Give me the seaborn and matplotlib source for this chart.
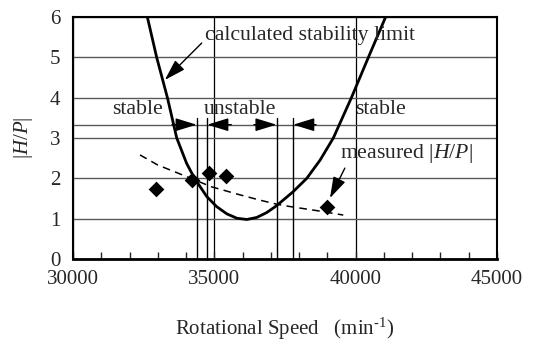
import matplotlib
matplotlib.use("Agg")
import matplotlib.pyplot as plt
import seaborn as sns
import pandas as pd

# ---- data ----
limit_x = [32630, 32960, 33340, 33670, 34020, 34300, 34730, 35080, 35440, 35800, 36150,
           36500, 36850, 37200, 37790, 38270, 38740, 39210, 39850, 40450, 41060]
limit_y = [6.0, 5.0, 4.0, 3.0, 2.37, 2.0, 1.55, 1.30, 1.12, 1.01, 0.98,
           1.03, 1.15, 1.32, 1.67, 2.0, 2.45, 3.0, 4.0, 5.0, 6.0]

trend_x = [32370, 33000, 33960, 34900, 35910, 36610, 37200, 37680, 38620, 39560]
trend_y = [2.58, 2.33, 2.06, 1.79, 1.59, 1.46, 1.36, 1.30, 1.20, 1.09]

meas_x = [32930, 34220, 34810, 35400, 39000]
meas_y = [1.74, 1.96, 2.13, 2.07, 1.30]

boundary_x = [34375, 34750, 37200, 37790]
boundary_top = 3.5
arrow_y = 3.33

x_ticks = [30000, 35000, 40000, 45000]
y_ticks = [0, 1, 2, 3, 4, 5, 6]

sns.set_style("white")
plt.rcParams["font.family"] = ["Liberation Serif", "DejaVu Serif"]
plt.rcParams["mathtext.fontset"] = "custom"
plt.rcParams["mathtext.rm"] = "Liberation Serif"
plt.rcParams["mathtext.it"] = "Liberation Serif:italic"

FS = 15
FA = 15.7

fig = plt.figure(figsize=(5.33, 3.42), dpi=100)
ax = fig.add_axes([73 / 533, 1 - 259 / 342, (497 - 73) / 533, (259 - 17) / 342])

df_lim = pd.DataFrame({"x": limit_x, "y": limit_y})
df_tr = pd.DataFrame({"x": trend_x, "y": trend_y})
df_m = pd.DataFrame({"x": meas_x, "y": meas_y})

sns.lineplot(data=df_lim, x="x", y="y", sort=False, color="black", lw=2.0, ax=ax, zorder=5)
sns.lineplot(data=df_tr, x="x", y="y", sort=False, color="black", lw=1.1, ax=ax, zorder=5)
ax.lines[-1].set_dashes([5, 3.5])
sns.scatterplot(data=df_m, x="x", y="y", marker="D", s=64, color="black",
                edgecolor="black", linewidth=0, ax=ax, zorder=6)

# stable / unstable boundaries
for bx in boundary_x:
    ax.plot([bx, bx], [0, boundary_top], color="black", lw=1.0, zorder=4)
ax.axhline(arrow_y, color="0.35", lw=1.0, zorder=2)

ap = dict(arrowstyle="-|>,head_length=0.65,head_width=0.2", color="black", lw=1.0,
          mutation_scale=20, shrinkA=0, shrinkB=0)
ax.annotate("", xy=(boundary_x[0], arrow_y), xytext=(33500, arrow_y), arrowprops=ap, zorder=7)
ax.annotate("", xy=(boundary_x[1], arrow_y), xytext=(35600, arrow_y), arrowprops=ap, zorder=7)
ax.annotate("", xy=(boundary_x[2], arrow_y), xytext=(36400, arrow_y), arrowprops=ap, zorder=7)
ax.annotate("", xy=(boundary_x[3], arrow_y), xytext=(38600, arrow_y), arrowprops=ap, zorder=7)

ax.text(32280, 3.70, "stable", fontsize=FA, ha="center", va="center", zorder=8)
ax.text(35900, 3.70, "unstable", fontsize=FA, ha="center", va="center", zorder=8)
ax.text(40870, 3.70, "stable", fontsize=FA, ha="center", va="center", zorder=8)

ax.annotate("calculated stability limit", xy=(33250, 4.44), xytext=(34670, 5.53),
            fontsize=FA, ha="left", va="center",
            arrowprops=dict(ap, relpos=(0, 0.3)), zorder=8)
ax.annotate(r"measured $|H/P|$", xy=(39090, 1.51), xytext=(39440, 2.62),
            fontsize=FA, ha="left", va="center",
            arrowprops=dict(ap, relpos=(0.05, 0.0)), zorder=8)

ax.set_xlim(30000, 45000)
ax.set_ylim(0, 6)
ax.set_xticks(x_ticks)
ax.set_xticks(range(30000, 45001, 1000), minor=True)
ax.set_yticks(y_ticks)
ax.tick_params(axis="x", which="both", direction="in", length=5, width=1.0,
               labelsize=FS, pad=8, bottom=True, top=False)
ax.tick_params(axis="y", which="both", length=0, labelsize=FS, pad=9)

ax.xaxis.grid(True, which="major", color="black", lw=0.9)
ax.yaxis.grid(True, which="major", color="0.35", lw=1.0)
ax.set_axisbelow(True)

for side, sp in ax.spines.items():
    sp.set_visible(True)
    sp.set_color("black")
    sp.set_linewidth(1.5)
ax.spines["bottom"].set_linewidth(2.0)

ax.set_xlabel(r"Rotational Speed   (min$^{\text{-}1}$)", fontsize=FS)
ax.xaxis.set_label_coords(0.5, -0.235)
ax.set_ylabel(r"$|H/P|$", fontsize=FS)
ax.yaxis.set_label_coords(-0.09, 0.5)

fig.savefig("out.png", dpi=100)
